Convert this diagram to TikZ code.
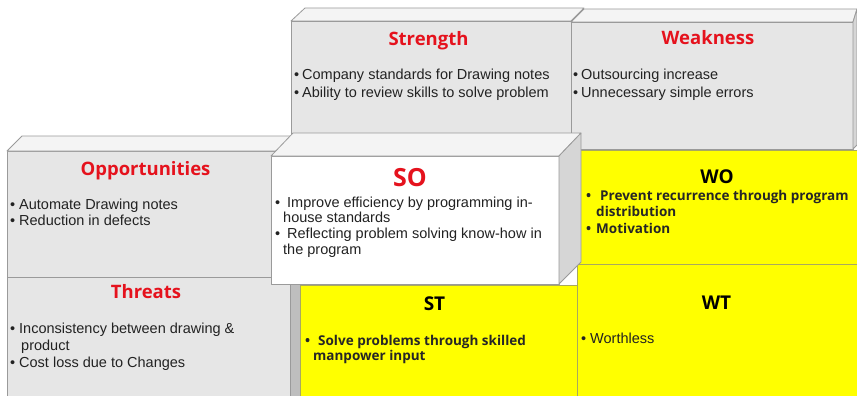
\documentclass[tikz,border=0pt]{standalone}
\usepackage{fontspec}
\setmainfont{Liberation Sans}
\newfontfamily\headfont{Open Sans}
\definecolor{facegray}{HTML}{E6E6E6}
\definecolor{topgray}{HTML}{F4F4F4}
\definecolor{sidegray}{HTML}{D6D6D6}
\definecolor{stripgray}{HTML}{BEBEBE}
\definecolor{edgegray}{HTML}{9A9A9A}
\definecolor{swotyellow}{HTML}{FFFF00}
\definecolor{yellowedge}{HTML}{A8A860}
\definecolor{titlered}{HTML}{E5121D}
\definecolor{textdark}{HTML}{222222}
\newcommand\bul[1]{\makebox[#1][l]{•}}
\begin{document}
\begin{tikzpicture}[x=1pt,y=-1pt,
  face/.style={draw=edgegray, line width=0.8pt, line join=round},
  frontface/.style={face, fill=facegray},
  topface/.style={face, fill=topgray},
  sideface/.style={face, fill=sidegray},
  yellowface/.style={draw=yellowedge, line width=0.8pt, fill=swotyellow},
  redtitle/.style={anchor=base, inner sep=0pt, text=titlered,
    font=\headfont\bfseries\fontsize{18.5}{20}\selectfont},
  blacktitle/.style={anchor=base, inner sep=0pt, text=black,
    font=\headfont\bfseries\fontsize{19}{21}\selectfont},
  body/.style={anchor=base west, inner sep=0pt, text=textdark,
    font=\fontsize{14.5}{17}\selectfont},
  boldbody/.style={anchor=base west, inner sep=0pt, text=black!85,
    font=\headfont\bfseries\fontsize{13.5}{16}\selectfont}]

\useasboundingbox (0,0) rectangle (857,396);
\fill[white] (0,0) rectangle (857,396);

% back row: Strength and Weakness
\draw[frontface] (291,21) rectangle (571,150);
\draw[topface] (291,21) -- (305,8) -- (584,8) -- (571,21) -- cycle;
\draw[frontface] (571,22) rectangle (853,149);
\draw[topface] (571,22) -- (584,9) -- (857,9) -- (853,22) -- cycle;
\draw[sideface] (853,22) -- (857,9) -- (857,145) -- (853,149) -- cycle;

% Opportunities
\draw[frontface] (7,151) rectangle (290,277);
\draw[topface] (7,151) -- (22,136) -- (305,136) -- (290,151) -- cycle;

% WO
\draw[yellowface] (577,150) rectangle (858,264);

% Threats with its right strip
\draw[frontface] (7,277) rectangle (290,398);
\draw[face, fill=stripgray] (290,277) rectangle (300,398);

% ST and WT
\draw[yellowface] (300,285) rectangle (577,398);
\draw[yellowface] (577,264) rectangle (858,398);

% SO block in front
\draw[face, fill=white] (271,156) rectangle (559,284);
\draw[topface] (271,156) -- (293,133) -- (581,133) -- (559,156) -- cycle;
\draw[sideface] (559,156) -- (581,133) -- (581,262) -- (559,284) -- cycle;

% titles
\node[redtitle] (tS) at (428.5,46) {Strength};
\node[redtitle] (tW) at (708,45) {Weakness};
\node[redtitle] (tO) at (145.5,175) {Opportunities};
\node[redtitle] (tT) at (146,298) {Threats};
\node[anchor=base, inner sep=0pt, text=titlered,
  font=\headfont\bfseries\fontsize{25}{27}\selectfont] (tSO) at (410,186) {SO};
\node[blacktitle] (tWO) at (717,183) {WO};
\node[blacktitle] (tST) at (434.5,310) {ST};
\node[blacktitle] (tWT) at (716.5,309) {WT};

% Strength items
\node[body] (s1) at (294,80) {\bul{8pt}Company standards for Drawing notes};
\node[body] (s2) at (294,97) {\bul{8pt}Ability to review skills to solve problem};

% Weakness items
\node[body] (w1) at (573,80) {\bul{8pt}Outsourcing increase};
\node[body] (w2) at (573,97) {\bul{8pt}Unnecessary simple errors};

% Opportunities items
\node[body] (o1) at (10,209) {\bul{9pt}Automate Drawing notes};
\node[body] (o2) at (10,225) {\bul{9pt}Reduction in defects};

% Threats items
\node[body] (t1) at (10,333) {\bul{9pt}Inconsistency between drawing \&};
\node[body] (t2) at (21,350) {product};
\node[body] (t3) at (10,367) {\bul{9pt}Cost loss due to Changes};

% SO items
\node[body] (so1) at (275,207) {\bul{12pt}Improve efficiency by programming in-};
\node[body] (so2) at (283,222) {house standards};
\node[body] (so3) at (275,238) {\bul{12pt}Reflecting problem solving know-how in};
\node[body] (so4) at (283,254) {the program};

% WO items
\node[boldbody] (wo1) at (586,200) {\bul{14pt}Prevent recurrence through program};
\node[boldbody] (wo2) at (596,216) {distribution};
\node[boldbody] (wo3) at (586,233) {\bul{10pt}Motivation};

% ST items
\node[boldbody] (st1) at (305,345) {\bul{13pt}Solve problems through skilled};
\node[boldbody] (st2) at (313,360) {manpower input};

% WT item
\node[body] (wt1) at (581,343) {\bul{9pt}Worthless};

\end{tikzpicture}
\end{document}
